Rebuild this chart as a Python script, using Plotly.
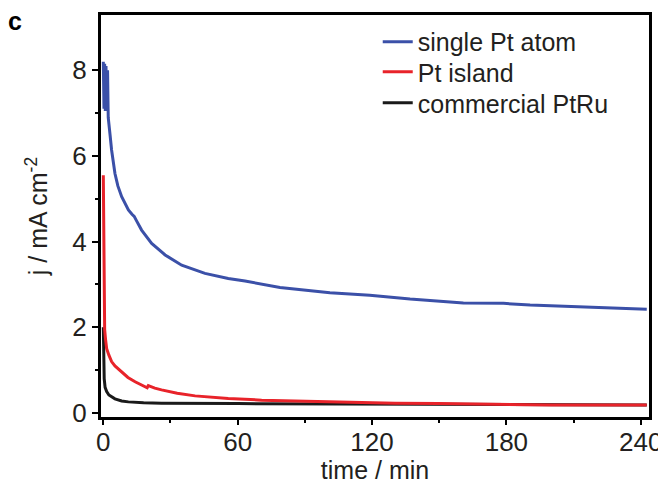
import plotly.graph_objects as go

# single Pt atom
t_atom = [0.0, 0.3, 0.6, 0.9, 1.2, 1.5, 1.9, 2.2, 3.0, 3.7, 5.2, 6.5, 8.2, 9.7, 11.2, 12.8, 13.8, 14.8, 17.1, 21.6, 27.6, 35.0, 45.4, 55.8, 63.3, 78.9, 101.2, 119.0, 137.0, 160.8, 178.7, 190.6, 212.9, 228.0, 242.7]
j_atom = [8.2, 7.1, 8.15, 7.05, 8.1, 7.1, 8.0, 6.9, 6.5, 6.14, 5.59, 5.3, 5.05, 4.88, 4.74, 4.64, 4.59, 4.49, 4.27, 3.96, 3.69, 3.45, 3.26, 3.14, 3.08, 2.93, 2.81, 2.75, 2.66, 2.57, 2.56, 2.52, 2.48, 2.45, 2.42]

# Pt island
t_island = [0.0, 0.15, 0.3, 0.6, 1.0, 1.5, 2.5, 3.7, 5.2, 8.2, 11.0, 14.2, 17.0, 19.6, 20.1, 23.0, 26.0, 33.0, 41.0, 55.8, 70.7, 85.6, 100.5, 130.3, 150.0, 170.0, 171.0, 200.0, 242.7]
j_island = [5.55, 3.6, 2.4, 1.95, 1.72, 1.5, 1.35, 1.2, 1.1, 0.95, 0.83, 0.73, 0.66, 0.59, 0.64, 0.58, 0.54, 0.46, 0.40, 0.34, 0.30, 0.28, 0.26, 0.23, 0.22, 0.21, 0.195, 0.19, 0.19]

# commercial PtRu
t_ptru = [0.0, 0.2, 0.4, 0.8, 1.5, 2.5, 3.7, 5.2, 8.2, 11.2, 18.0, 26.0, 60.0, 130.0, 180.0, 242.7]
j_ptru = [2.0, 1.2, 0.8, 0.6, 0.5, 0.42, 0.37, 0.33, 0.28, 0.26, 0.24, 0.23, 0.22, 0.2, 0.19, 0.185]

x_ticks = [0, 60, 120, 180, 240]
y_ticks = [0, 2, 4, 6, 8]
x_minor = [30, 90, 150, 210]
y_minor = [1, 3, 5, 7]
names = ["single Pt atom", "Pt island", "commercial PtRu"]
colors = ["#3b50a8", "#e8232a", "#1a1a1a"]

fig = go.Figure()
fig.add_trace(go.Scatter(x=t_ptru, y=j_ptru, mode="lines", name=names[2], legend="legend3",
                         line=dict(color=colors[2], width=3)))
fig.add_trace(go.Scatter(x=t_island, y=j_island, mode="lines", name=names[1], legend="legend2",
                         line=dict(color=colors[1], width=3)))
fig.add_trace(go.Scatter(x=t_atom, y=j_atom, mode="lines", name=names[0], legend="legend",
                         line=dict(color=colors[0], width=3)))

font_family = "Liberation Sans, Arial, sans-serif"
leg_common = dict(x=0.505, xanchor="left", yanchor="middle", bgcolor="rgba(0,0,0,0)",
                  font=dict(size=25), itemwidth=30)

# page body has an 8px default margin; figure is sized to fill the rest
fig.update_layout(
    width=658, height=476,
    margin=dict(l=93, r=17, t=7, b=67),
    paper_bgcolor="white", plot_bgcolor="white",
    font=dict(family=font_family, size=26, color="#231f20"),
    showlegend=True,
    legend=dict(y=0.933, **leg_common),
    legend2=dict(y=0.858, **leg_common),
    legend3=dict(y=0.781, **leg_common),
    xaxis=dict(range=[-1.03, 243.7], tickvals=x_ticks, ticks="outside", ticklen=5,
               tickwidth=2, tickcolor="black", showline=True, linewidth=3, linecolor="black",
               mirror=True, showgrid=False, zeroline=False, automargin=False,
               ticklabelstandoff=-5,
               minor=dict(tickvals=x_minor, ticks="outside", ticklen=3,
                          tickwidth=2, tickcolor="black"),
               title=dict(text="time / min", standoff=6, font=dict(size=25))),
    yaxis=dict(range=[-0.093, 9.29], tickvals=y_ticks, ticks="outside", ticklen=6,
               tickwidth=2, tickcolor="black", showline=True, linewidth=3, linecolor="black",
               mirror=True, showgrid=False, zeroline=False, automargin=False,
               minor=dict(tickvals=y_minor, ticks="outside", ticklen=3,
                          tickwidth=2, tickcolor="black"),
               title=dict(text="j / mA cm<sup>-2</sup>", standoff=18, font=dict(size=25))),
)
fig.add_annotation(text="<b>c</b>", xref="paper", yref="paper", x=-0.157, y=0.985,
                   xanchor="center", yanchor="middle", showarrow=False,
                   font=dict(size=25, color="black", family=font_family))

fig.write_html("out.html")
